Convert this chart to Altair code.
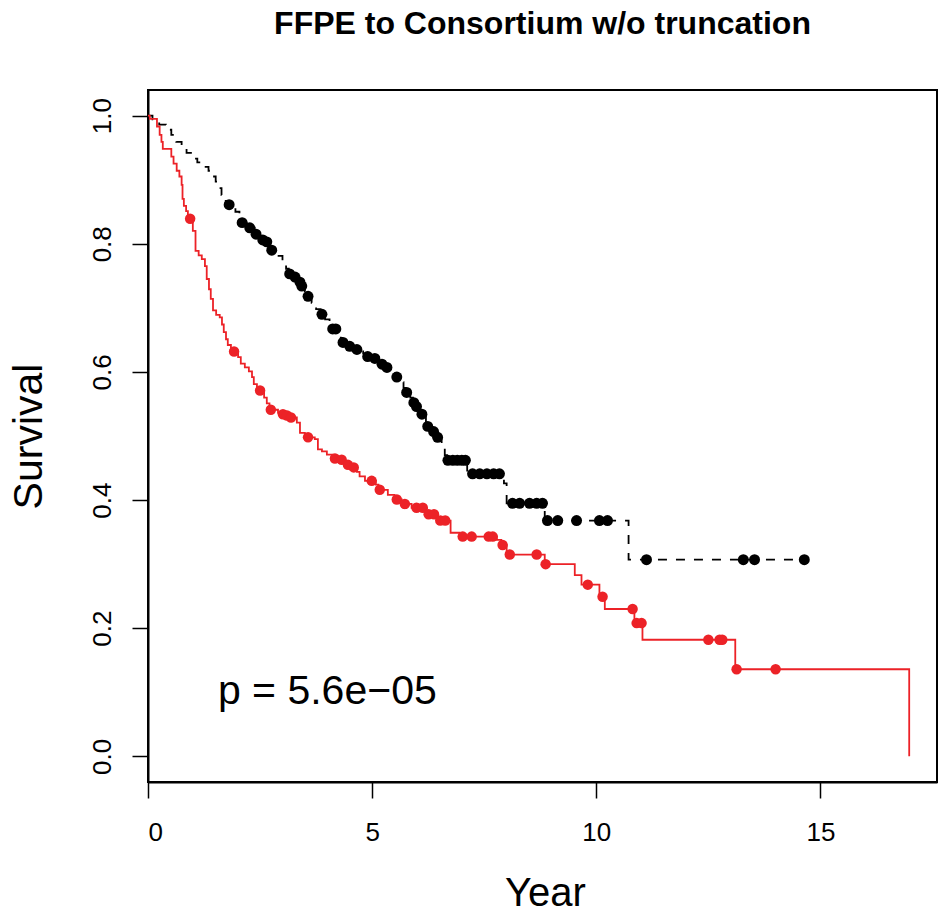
import altair as alt
import pandas as pd
import numpy as np

# ---- Kaplan-Meier steps ----
black_step_t = [0, 0.10, 0.25, 0.40, 0.52, 0.63, 0.75, 0.86, 0.98, 1.10, 1.23, 1.35, 1.44, 1.51,
                1.57, 1.64, 1.71, 1.78, 1.95, 2.04, 2.08, 2.20, 2.38, 2.50, 2.60, 2.70, 2.85, 3.00,
                3.08, 3.14, 3.25, 3.35, 3.41, 3.50, 3.55, 3.65, 3.75, 3.85, 3.95, 4.05, 4.10, 4.30,
                4.33, 4.45, 4.60, 4.80, 4.88, 5.00, 5.15, 5.20, 5.30, 5.45, 5.52, 5.62, 5.70, 5.75,
                5.85, 5.91, 5.97, 6.06, 6.10, 6.20, 6.23, 6.33, 6.44, 6.55, 6.62, 6.67, 7.12, 7.94,
                8.00, 8.85, 10.72, 14.64]
black_step_s = [1.0, 0.994, 0.986, 0.978, 0.970, 0.959, 0.953, 0.942, 0.933, 0.927, 0.920, 0.914,
                0.905, 0.897, 0.887, 0.876, 0.867, 0.861, 0.850, 0.839, 0.833, 0.825, 0.815, 0.806,
                0.803, 0.790, 0.781, 0.770, 0.761, 0.753, 0.748, 0.740, 0.734, 0.726, 0.718, 0.708,
                0.698, 0.690, 0.682, 0.674, 0.667, 0.653, 0.646, 0.640, 0.635, 0.629, 0.624, 0.621,
                0.615, 0.612, 0.607, 0.598, 0.592, 0.584, 0.575, 0.568, 0.560, 0.552, 0.546, 0.540,
                0.534, 0.522, 0.515, 0.507, 0.498, 0.485, 0.470, 0.462, 0.441, 0.426, 0.395, 0.368,
                0.307, 0.307]
black_cens_t = [1.81, 2.10, 2.27, 2.41, 2.56, 2.65, 2.76, 3.16, 3.28, 3.39, 3.43, 3.57, 3.88, 4.12,
                4.19, 4.35, 4.50, 4.66, 4.90, 5.06, 5.22, 5.33, 5.55, 5.77, 5.93, 5.99, 6.11, 6.24,
                6.37, 6.46, 6.69, 6.80, 6.90, 7.00, 7.08, 7.24, 7.40, 7.56, 7.71, 7.84, 8.13, 8.29,
                8.51, 8.67, 8.80, 8.91, 9.14, 9.56, 10.07, 10.25, 11.12, 13.28, 13.53, 14.64]

red_step_t = [0, 0.04, 0.20, 0.26, 0.30, 0.33, 0.52, 0.57, 0.64, 0.70, 0.75, 0.77, 0.80, 0.85,
              0.89, 1.00, 1.06, 1.13, 1.20, 1.27, 1.31, 1.36, 1.40, 1.45, 1.52, 1.60, 1.65, 1.69,
              1.74, 1.78, 1.85, 1.89, 2.01, 2.07, 2.16, 2.25, 2.32, 2.36, 2.43, 2.59, 2.65, 2.71,
              2.90, 3.00, 3.08, 3.17, 3.32, 3.39, 3.50, 3.72, 3.79, 3.88, 3.99, 4.12, 4.28, 4.39,
              4.44, 4.55, 4.66, 4.72, 4.84, 5.08, 5.14, 5.35, 5.50, 5.66, 5.88, 6.20, 6.45, 6.75,
              6.95, 7.78, 7.88, 8.00, 8.85, 9.52, 9.67, 10.07, 10.19, 10.85, 11.03, 13.10, 16.98]
red_step_s = [1.0, 0.995, 0.983, 0.970, 0.959, 0.948, 0.936, 0.925, 0.914, 0.905, 0.892, 0.870,
              0.859, 0.851, 0.839, 0.820, 0.789, 0.782, 0.776, 0.765, 0.745, 0.729, 0.714, 0.696,
              0.689, 0.685, 0.674, 0.662, 0.651, 0.642, 0.635, 0.632, 0.623, 0.613, 0.607, 0.601,
              0.592, 0.581, 0.571, 0.560, 0.551, 0.541, 0.536, 0.534, 0.532, 0.529, 0.521, 0.505,
              0.498, 0.495, 0.479, 0.476, 0.471, 0.465, 0.463, 0.459, 0.455, 0.451, 0.444, 0.437,
              0.430, 0.424, 0.416, 0.408, 0.401, 0.394, 0.388, 0.378, 0.368, 0.349, 0.343, 0.338,
              0.330, 0.315, 0.300, 0.283, 0.268, 0.249, 0.230, 0.208, 0.182, 0.136, 0.0]
red_cens_t = [0.94, 1.92, 2.50, 2.74, 3.01, 3.10, 3.19, 3.57, 4.17, 4.32, 4.46, 4.59, 4.99, 5.17,
              5.55, 5.73, 5.99, 6.13, 6.26, 6.38, 6.52, 6.63, 7.02, 7.22, 7.60, 7.69, 7.91, 8.07,
              8.67, 8.87, 9.81, 10.14, 10.81, 10.90, 11.01, 12.50, 12.75, 12.81, 13.13, 14.0]

x_ticks = [0, 5, 10, 15]
y_ticks = [0.0, 0.2, 0.4, 0.6, 0.8, 1.0]
p_label = "p = 5.6e\u221205"
title_text = "FFPE to Consortium w/o truncation"


def on_curve(ts, ss, ct):
    idx = np.searchsorted(np.array(ts), np.array(ct), side="right") - 1
    return [ss[i] for i in idx]


black_line = pd.DataFrame({"t": black_step_t, "s": black_step_s})
red_line = pd.DataFrame({"t": red_step_t, "s": red_step_s})
black_pts = pd.DataFrame({"t": black_cens_t, "s": on_curve(black_step_t, black_step_s, black_cens_t)})
red_pts = pd.DataFrame({"t": red_cens_t, "s": on_curve(red_step_t, red_step_s, red_cens_t)})

FONT = "Liberation Sans"
RED = "#EC2227"

xs = alt.Scale(domain=[0, 17.6], nice=False, zero=False)
ys = alt.Scale(domain=[-0.04, 1.04], nice=False, zero=False)

xax = alt.Axis(values=x_ticks, format="d", title="Year", grid=False, tickSize=16, tickWidth=1.5,
               domainWidth=2, labelFontSize=26, labelPadding=21, labelFont=FONT,
               titleFont=FONT, titleFontSize=40, titleFontWeight="normal",
               titleX=397, titleY=123, titleBaseline="alphabetic", titleAlign="center")
yax = alt.Axis(values=y_ticks, format=".1f", title="Survival", grid=False, tickSize=16, tickWidth=1.5,
               domainWidth=2, labelFontSize=26, labelPadding=17, labelFont=FONT,
               labelAngle=270, labelAlign="center", labelBaseline="bottom",
               titleFont=FONT, titleFontSize=41, titleFontWeight="normal",
               titleAngle=270, titleX=-98, titleY=346, titleAlign="center", titleBaseline="bottom")

black_l = alt.Chart(black_line).mark_line(interpolate="step-after", color="black", strokeWidth=1.8,
                                          strokeDash=[9, 9]).encode(
    x=alt.X("t:Q", scale=xs, axis=xax), y=alt.Y("s:Q", scale=ys, axis=yax))
red_l = alt.Chart(red_line).mark_line(interpolate="step-after", color=RED, strokeWidth=1.8).encode(
    x=alt.X("t:Q", scale=xs), y=alt.Y("s:Q", scale=ys))
black_p = alt.Chart(black_pts).mark_point(filled=True, shape="circle", size=120, color="black",
                                           opacity=1).encode(
    x=alt.X("t:Q", scale=xs), y=alt.Y("s:Q", scale=ys))
red_p = alt.Chart(red_pts).mark_point(filled=True, shape="circle", size=110, color=RED,
                                       opacity=1).encode(
    x=alt.X("t:Q", scale=xs), y=alt.Y("s:Q", scale=ys))
ptext = alt.Chart(pd.DataFrame({"t": [4.0], "s": [0.1], "label": [p_label]})).mark_text(
    font=FONT, fontSize=41, align="center", baseline="middle", color="black").encode(
    x=alt.X("t:Q", scale=xs), y=alt.Y("s:Q", scale=ys), text="label:N")

chart = alt.layer(black_l, red_l, black_p, red_p, ptext).properties(
    width=789, height=692,
    background="white",
    title=alt.TitleParams(title_text, font=FONT, fontSize=32, fontWeight="bold", anchor="middle",
                          baseline="alphabetic", offset=24, color="black"),
    autosize=alt.AutoSizeParams(type="none"),
    padding={"left": 148, "top": 90, "right": 3, "bottom": 133},
).configure_view(stroke="black", strokeWidth=2).configure_axis(
    domainColor="black", tickColor="black", labelColor="black", titleColor="black"
)

chart.save("out.html", embed_options={"renderer": "svg", "actions": False})
